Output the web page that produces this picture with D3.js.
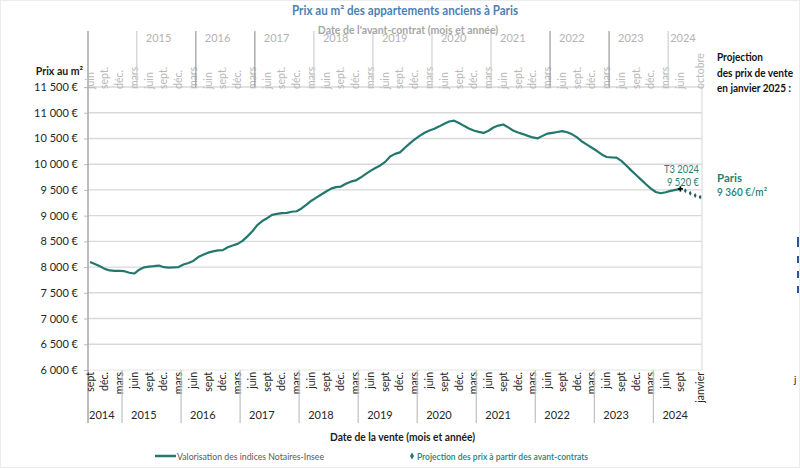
<!DOCTYPE html>
<html><head><meta charset="utf-8">
<script src="https://cdn.jsdelivr.net/npm/d3@7"></script>
<style>
html,body{margin:0;padding:0;background:#fff;}
svg{display:block;font-family:Lato,"Open Sans",sans-serif;}
</style></head>
<body>
<svg id="c" width="800" height="469"></svg>
<script>
// ---------- DATA ----------
// Monthly price per m² (sale date), Sept 2014 (index 0) to Sept 2024 (index 120)
const prices = [
 8100,8060,8015,7965,7935,7928,7925,7920,7890,7875,7950,7995,
 8010,8018,8030,7998,7990,7994,8000,8050,8080,8120,8195,8240,
 8280,8306,8326,8330,8385,8420,8452,8510,8597,8695,8815,8895,
 8950,9015,9035,9050,9055,9076,9085,9140,9215,9290,9350,9410,
 9470,9525,9555,9565,9620,9660,9684,9740,9805,9870,9925,9975,
 10045,10150,10200,10230,10320,10405,10480,10550,10610,10655,10690,10735,
 10785,10830,10845,10800,10745,10695,10655,10628,10608,10650,10712,10750,
 10772,10715,10655,10615,10585,10550,10520,10503,10550,10595,10610,10625,
 10642,10620,10580,10520,10440,10380,10320,10260,10190,10140,10132,10128,
 10065,9975,9880,9790,9700,9610,9525,9460,9435,9455,9482,9500,
 9520
];
// Projection from pre-contracts: Sept 2024 .. Jan 2025 (month index 120..124)
const projMonths = [120,121,122,123,124];
const projValues = [9520,9484,9435,9392,9360];

const yTicks = [6000,6500,7000,7500,8000,8500,9000,9500,10000,10500,11000,11500];

// bottom axis (sale date) quarterly labels, every 3 months from Sept 2014
const bottomMonthLabels = ["sept","déc.","mars","juin"];
const bottomExtra = {m:124, label:"janvier"};
const bottomYears = ["2014","2015","2016","2017","2018","2019","2020","2021","2022","2023","2024"];
// top axis (pre-contract date) labels, shifted 3 months earlier
const topMonthLabels = ["juin","sept.","déc.","mars"];
const topExtra = {m:124, label:"octobre"};
const topYears = ["2015","2016","2017","2018","2019","2020","2021","2022","2023","2024"];

const title = "Prix au m² des appartements anciens à Paris";
const subTitle = "Date de l'avant-contrat  (mois et année)";
const xTitle = "Date de la vente (mois et année)";
const yTitle = "Prix au m²";
const legendA = "Valorisation des indices Notaires-Insee";
const legendB = "Projection des prix à partir des avant-contrats";
const lastLabel = ["T3 2024","9 520 €"];
const sideLabel = ["Projection","des prix de vente","en janvier 2025 :"];
const parisLabel = ["Paris","9 360 €/m²"];

// ---------- LAYOUT ----------
const svg = d3.select("#c");
const L = 88, R = 702, T = 87, B = 370;
const teal = "#23786e";
const x = d3.scaleLinear().domain([0,124]).range([90, 90 + 4.92*124]);
const y = d3.scaleLinear().domain([6000,11500]).range([B, T]);
const fmt = v => d3.format(",")(v).replace(/,/g," ") + " €";

// gridlines
svg.append("g").selectAll("line").data(yTicks.filter(d=>d>6000)).join("line")
  .attr("x1",L).attr("x2",R).attr("y1",d=>y(d)).attr("y2",d=>y(d))
  .attr("stroke","#d9d9d9").attr("stroke-width",1.4);
// plot border lines (bottom, right)
svg.append("line").attr("x1",L).attr("x2",R).attr("y1",B).attr("y2",B).attr("stroke","#e6e6e6").attr("stroke-width",1);
svg.append("line").attr("x1",R).attr("x2",R).attr("y1",T-2).attr("y2",B).attr("stroke","#e3e3e3").attr("stroke-width",1.5);

// y axis
const yAxis = d3.axisLeft(y).tickValues(yTicks).tickSize(4).tickFormat(fmt);
const gy = svg.append("g").attr("transform",`translate(${L},0)`).call(yAxis);
gy.select(".domain").remove();
gy.selectAll(".tick line").attr("stroke","#bfbfbf");
gy.selectAll(".tick text").attr("x",-10).attr("font-size",11).attr("fill","#262626").attr("font-family","Lato, sans-serif");
// left vertical line spanning both axes
svg.append("line").attr("x1",L).attr("x2",L).attr("y1",31).attr("y2",423).attr("stroke","#a6a6a6").attr("stroke-width",1.5);

svg.append("text").attr("x",83).attr("y",75).attr("text-anchor","end")
  .attr("font-size",10.5).attr("font-weight",700).attr("fill","#1a1a1a").text(yTitle);

// ---------- bottom axis ----------
const bq = d3.range(0,41).map(q=>({m:q*3, label:bottomMonthLabels[q%4]})).concat([bottomExtra]);
svg.append("g").selectAll("text").data(bq).join("text")
  .attr("transform",d=>`translate(${x(d.m)+3.5},${372}) rotate(-90)`)
  .attr("text-anchor","end").attr("font-size",10.5).attr("fill","#262626").text(d=>d.label);
const bSeps = d3.range(0,10).map(k=>x(6+12*k)+2.5);
svg.append("g").selectAll("line").data(bSeps).join("line")
  .attr("x1",d=>d).attr("x2",d=>d).attr("y1",B).attr("y2",423)
  .attr("stroke","#bfbfbf").attr("stroke-width",1.2);
const bEdges = [L].concat(bSeps).concat([R]);
svg.append("g").selectAll("text").data(bottomYears).join("text")
  .attr("x",(d,i)=> i===0 ? 89 : bEdges[i]+9)
  .attr("y",419).attr("font-size",11).attr("fill","#262626").text(d=>d);

// ---------- top axis ----------
const tq = d3.range(0,41).map(q=>({m:q*3, label:topMonthLabels[q%4]})).concat([topExtra]);
svg.append("g").selectAll("text").data(tq).join("text")
  .attr("transform",d=>`translate(${x(d.m)+3.5},${89}) rotate(-90)`)
  .attr("text-anchor","start").attr("font-size",10.5).attr("fill","#b8b8b8").text(d=>d.label);
const tSeps = d3.range(0,10).map(k=>x(9+12*k)+2.5);
const darkTop = new Set([1,2,7,8]);
svg.append("g").selectAll("line").data(tSeps).join("line")
  .attr("x1",d=>d).attr("x2",d=>d).attr("y1",31).attr("y2",T)
  .attr("stroke",(d,i)=>darkTop.has(i)?"#9a9a9a":"#d0d0d0").attr("stroke-width",1.2);
const tEdges = tSeps.concat([R]);
svg.append("g").selectAll("text").data(topYears).join("text")
  .attr("x",(d,i)=> i===topYears.length-1 ? tEdges[i]+2 : tEdges[i]+9)
  .attr("y",42).attr("font-size",11).attr("fill","#b3b3b3").text(d=>d);

// titles
svg.append("text").attr("x",292).attr("y",15)
  .attr("font-size",12.5).attr("font-weight",700).attr("fill","#4f7fb5")
  .attr("textLength",226).attr("lengthAdjust","spacingAndGlyphs").text(title);
svg.append("text").attr("x",408).attr("y",34).attr("text-anchor","middle")
  .attr("font-size",10.5).attr("font-weight",700).attr("fill","#a6a6a6").text(subTitle);
svg.append("text").attr("x",330).attr("y",441)
  .attr("font-size",11).attr("font-weight",700).attr("fill","#1a1a1a")
  .attr("textLength",145).attr("lengthAdjust","spacingAndGlyphs").text(xTitle);

// ---------- series ----------
const line = d3.line().x((d,i)=>x(i)).y(d=>y(d)).curve(d3.curveLinear);
svg.append("path").datum(prices).attr("d",line).attr("fill","none")
  .attr("stroke",teal).attr("stroke-width",2.2).attr("stroke-linejoin","round");

const proj = projMonths.map((m,i)=>({m, v:projValues[i]}));
const diamond = d3.symbol().type(d3.symbolDiamond).size(7);
svg.append("g").selectAll("path").data(proj.slice(1)).join("path")
  .attr("d",diamond).attr("transform",d=>`translate(${x(d.m)},${y(d.v)})`).attr("fill","#1d5f57");
svg.append("path").attr("d",d3.symbol().type(d3.symbolCross).size(14))
  .attr("transform",`translate(${x(proj[0].m)},${y(proj[0].v)})`).attr("fill","#000");

// annotations
const lastW = [35,32];
svg.append("g").selectAll("text").data(lastLabel).join("text")
  .attr("x",(d,i)=>699-lastW[i]).attr("y",(d,i)=>173+i*13)
  .attr("font-size",11).attr("fill","#2a7f75")
  .attr("textLength",(d,i)=>lastW[i]).attr("lengthAdjust","spacingAndGlyphs").text(d=>d);
const sideW = [46,76,74];
svg.append("g").selectAll("text").data(sideLabel).join("text")
  .attr("x",717).attr("y",(d,i)=>61+i*15.5).attr("font-size",11).attr("font-weight",700)
  .attr("fill","#111").attr("textLength",(d,i)=>sideW[i]).attr("lengthAdjust","spacingAndGlyphs").text(d=>d);
const parisW = [25,50];
svg.append("g").selectAll("text").data(parisLabel).join("text")
  .attr("x",717).attr("y",(d,i)=>182+i*14).attr("font-size",11).attr("font-weight",(d,i)=>i===0?700:600)
  .attr("fill","#2a7f75").attr("textLength",(d,i)=>parisW[i]).attr("lengthAdjust","spacingAndGlyphs").text(d=>d);

// legend
svg.append("line").attr("x1",155).attr("x2",176).attr("y1",456).attr("y2",456).attr("stroke",teal).attr("stroke-width",2.5);
svg.append("text").attr("x",177).attr("y",459.5).attr("font-size",10).attr("fill","#595959")
  .attr("textLength",147).attr("lengthAdjust","spacingAndGlyphs").text(legendA);
svg.append("path").attr("d",d3.symbol().type(d3.symbolDiamond).size(14)).attr("transform","translate(412,456)").attr("fill",teal);
svg.append("text").attr("x",417).attr("y",459.5).attr("font-size",10).attr("font-weight",600).attr("fill","#2a7f75")
  .attr("textLength",171).attr("lengthAdjust","spacingAndGlyphs").text(legendB);

// cropped fragments at the right edge of the original picture
svg.append("rect").attr("x",797).attr("y",237).attr("width",3).attr("height",10).attr("fill","#2f5597");
svg.append("g").selectAll("rect.v").data([256,271,286]).join("rect")
  .attr("x",797).attr("y",d=>d).attr("width",3).attr("height",7).attr("fill","#2f5597");
svg.append("text").attr("x",794).attr("y",383).attr("font-size",10).attr("fill","#222").text("j");
// chart frame
svg.append("rect").attr("x",0.5).attr("y",0.5).attr("width",799).attr("height",467).attr("fill","none").attr("stroke","#ececec");
</script>
</body></html>
